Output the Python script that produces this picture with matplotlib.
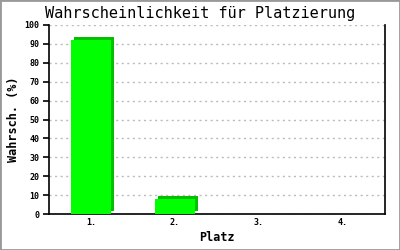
import matplotlib
matplotlib.use('Agg')
import matplotlib.pyplot as plt
from matplotlib import transforms
from matplotlib.patches import Rectangle

places = ['1.', '2.', '3.', '4.']
probability = [92, 8, 0, 0]

mono = 'DejaVu Sans Mono'

fig = plt.figure(figsize=(4, 2.5), dpi=100)
ax = fig.add_axes([0.1225, 0.144, 0.84, 0.756])

xs = [i + 0.5 for i in range(len(places))]

# dark "depth" bar shifted up/right, bright front bar on top
shift = transforms.offset_copy(ax.transData, fig=fig, x=3, y=3, units='dots')
ax.bar(xs, probability, width=0.47, color='#00c000', transform=shift,
       zorder=2, linewidth=0)
ax.bar(xs, probability, width=0.47, color='#00ff00', zorder=3, linewidth=0)

ax.set_xlim(0, 4)
ax.set_ylim(0, 100)
ax.set_yticks(range(0, 101, 10))
ax.set_xticks(xs)
ax.set_xticklabels(places)
ax.yaxis.grid(True, linestyle=(0, (1.5, 2.5)), color='#bbbbbb', linewidth=1)
ax.set_axisbelow(True)

ax.spines['top'].set_visible(False)
for s in ['left', 'right', 'bottom']:
    ax.spines[s].set_linewidth(1.2)
ax.tick_params(axis='y', length=4, width=1.2, direction='out', pad=3,
               labelsize=6)
ax.tick_params(axis='x', length=0, pad=3, labelsize=6)
for lab in ax.get_xticklabels() + ax.get_yticklabels():
    lab.set_family(mono)
    lab.set_fontweight('bold')

fig.text(0.5, 0.946, 'Wahrscheinlichkeit für Platzierung', family=mono,
         fontsize=11, ha='center', va='center')
ax.set_xlabel('Platz', family=mono, fontsize=8.5, fontweight='bold',
              labelpad=3)
ax.set_ylabel('Wahrsch. (%)', family=mono, fontsize=8.5, fontweight='bold',
              labelpad=3)

# gray frame round the picture
fig.patches.append(Rectangle((0, 0), 1, 1, transform=fig.transFigure,
                             fill=False, edgecolor='#999999', linewidth=2))

fig.savefig('out.png', dpi=100)
